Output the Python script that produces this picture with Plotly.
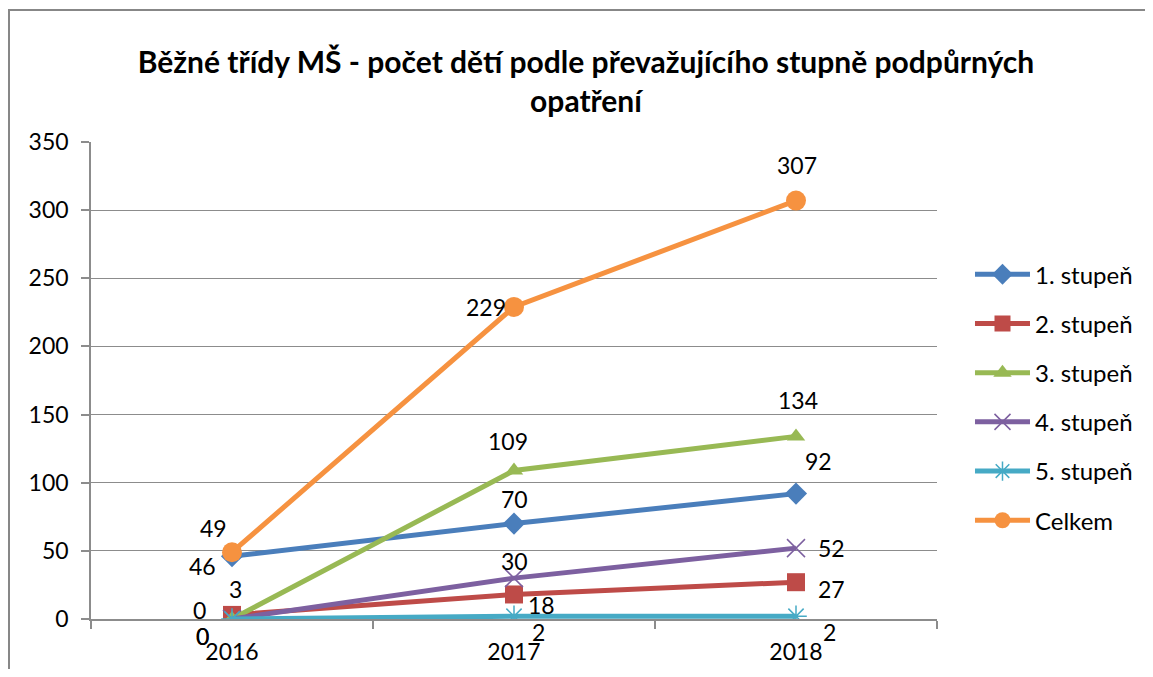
import plotly.graph_objects as go

years = ["2016", "2017", "2018"]
series_names = ["1. stupeň", "2. stupeň", "3. stupeň", "4. stupeň", "5. stupeň", "Celkem"]
s1 = [46, 70, 92]
s2 = [3, 18, 27]
s3 = [0, 109, 134]
s4 = [0, 30, 52]
s5 = [0, 2, 2]
total = [49, 229, 307]
y_ticks = [0, 50, 100, 150, 200, 250, 300, 350]

values = [s1, s2, s3, s4, s5, total]
colors = ["#4A7EBB", "#BE4B48", "#98B954", "#7D60A0", "#46AAC5", "#F69240"]
symbols = ["diamond", "square", "triangle-up", "x-thin-open", "asterisk-open", "circle"]
msizes = [17, 18, 16, 18, 18, 20]

# label offsets (dx, dy) in px per series per point
offsets = [
    [(-30, -10), (0, 25), (22, 33)],
    [(3, 26), (27, -11), (35, -7)],
    [(-33, 9), (-6, 29), (2, 36)],
    [(-30, -17), (0, 17), (35, 0)],
    [(-30, -17), (24, -16), (33, -16)],
    [(-19, 24), (-28, 0), (1, 36)],
]

FONT = "Lato"
# The page body has an 8px margin; the figure is sized so the page does not overflow.
W, H = 1137, 661
L, T = 83, 134
PW, PH = 846, 477

fig = go.Figure()
for i, name in enumerate(series_names):
    mk = dict(symbol=symbols[i], size=msizes[i], color=colors[i])
    if "open" in symbols[i]:
        mk["line"] = dict(color=colors[i], width=1.5)
    fig.add_trace(go.Scatter(
        x=years, y=values[i], name=name, mode="lines+markers",
        line=dict(color=colors[i], width=5),
        marker=mk, legendgroup=name,
    ))

annotations = []
for i, vals in enumerate(values):
    for j, v in enumerate(vals):
        dx, dy = offsets[i][j]
        annotations.append(dict(
            x=j, y=v, xref="x", yref="y", text=str(v), showarrow=False,
            xshift=dx, yshift=dy, font=dict(family=FONT, size=23, color="#000000"),
        ))

fx0 = (1 - L) / PW
fy1 = (T + PH - 2) / PH
frame_path = f"M {fx0},-0.3 L {fx0},{fy1} L 1.5,{fy1}"

fig.update_layout(
    width=W, height=H,
    margin=dict(l=L, r=W - L - PW, t=T, b=H - T - PH, autoexpand=False),
    paper_bgcolor="white", plot_bgcolor="white",
    title=dict(
        text="<b>Běžné třídy MŠ - počet dětí podle převažujícího stupně podpůrných<br>opatření</b>",
        x=(578) / W, xanchor="center", y=1 - 65 / H, yanchor="middle",
        font=dict(family=FONT, size=30, color="#000000"),
    ),
    font=dict(family=FONT, size=23, color="#000000"),
    showlegend=True,
    legend=dict(
        x=1.039, xanchor="left", y=0.464, yanchor="middle",
        font=dict(family=FONT, size=24, color="#000000"),
        itemwidth=55, tracegroupgap=15, traceorder="grouped",
        bgcolor="rgba(0,0,0,0)",
    ),
    annotations=annotations,
    shapes=[dict(
        type="path", xref="paper", yref="paper", path=frame_path,
        line=dict(color="#878787", width=2), layer="below",
    )],
)

fig.update_xaxes(
    type="category", range=[-0.5, 2.5],
    showline=True, linecolor="#8C8C8C", linewidth=1.5,
    ticks="outside", tickson="boundaries", ticklen=8, tickcolor="#8C8C8C", tickwidth=1.5,
    showgrid=False, ticklabelstandoff=12,
    tickfont=dict(family=FONT, size=23, color="#000000"),
)
fig.update_yaxes(
    range=[0, 350], tickvals=y_ticks,
    showline=True, linecolor="#8C8C8C", linewidth=1.5,
    ticks="outside", ticklen=8, tickcolor="#8C8C8C", tickwidth=1.5,
    showgrid=True, gridcolor="#8C8C8C", gridwidth=1, zeroline=False,
    ticklabelstandoff=8,
    tickfont=dict(family=FONT, size=23, color="#000000"),
)

fig.write_html("out.html")
